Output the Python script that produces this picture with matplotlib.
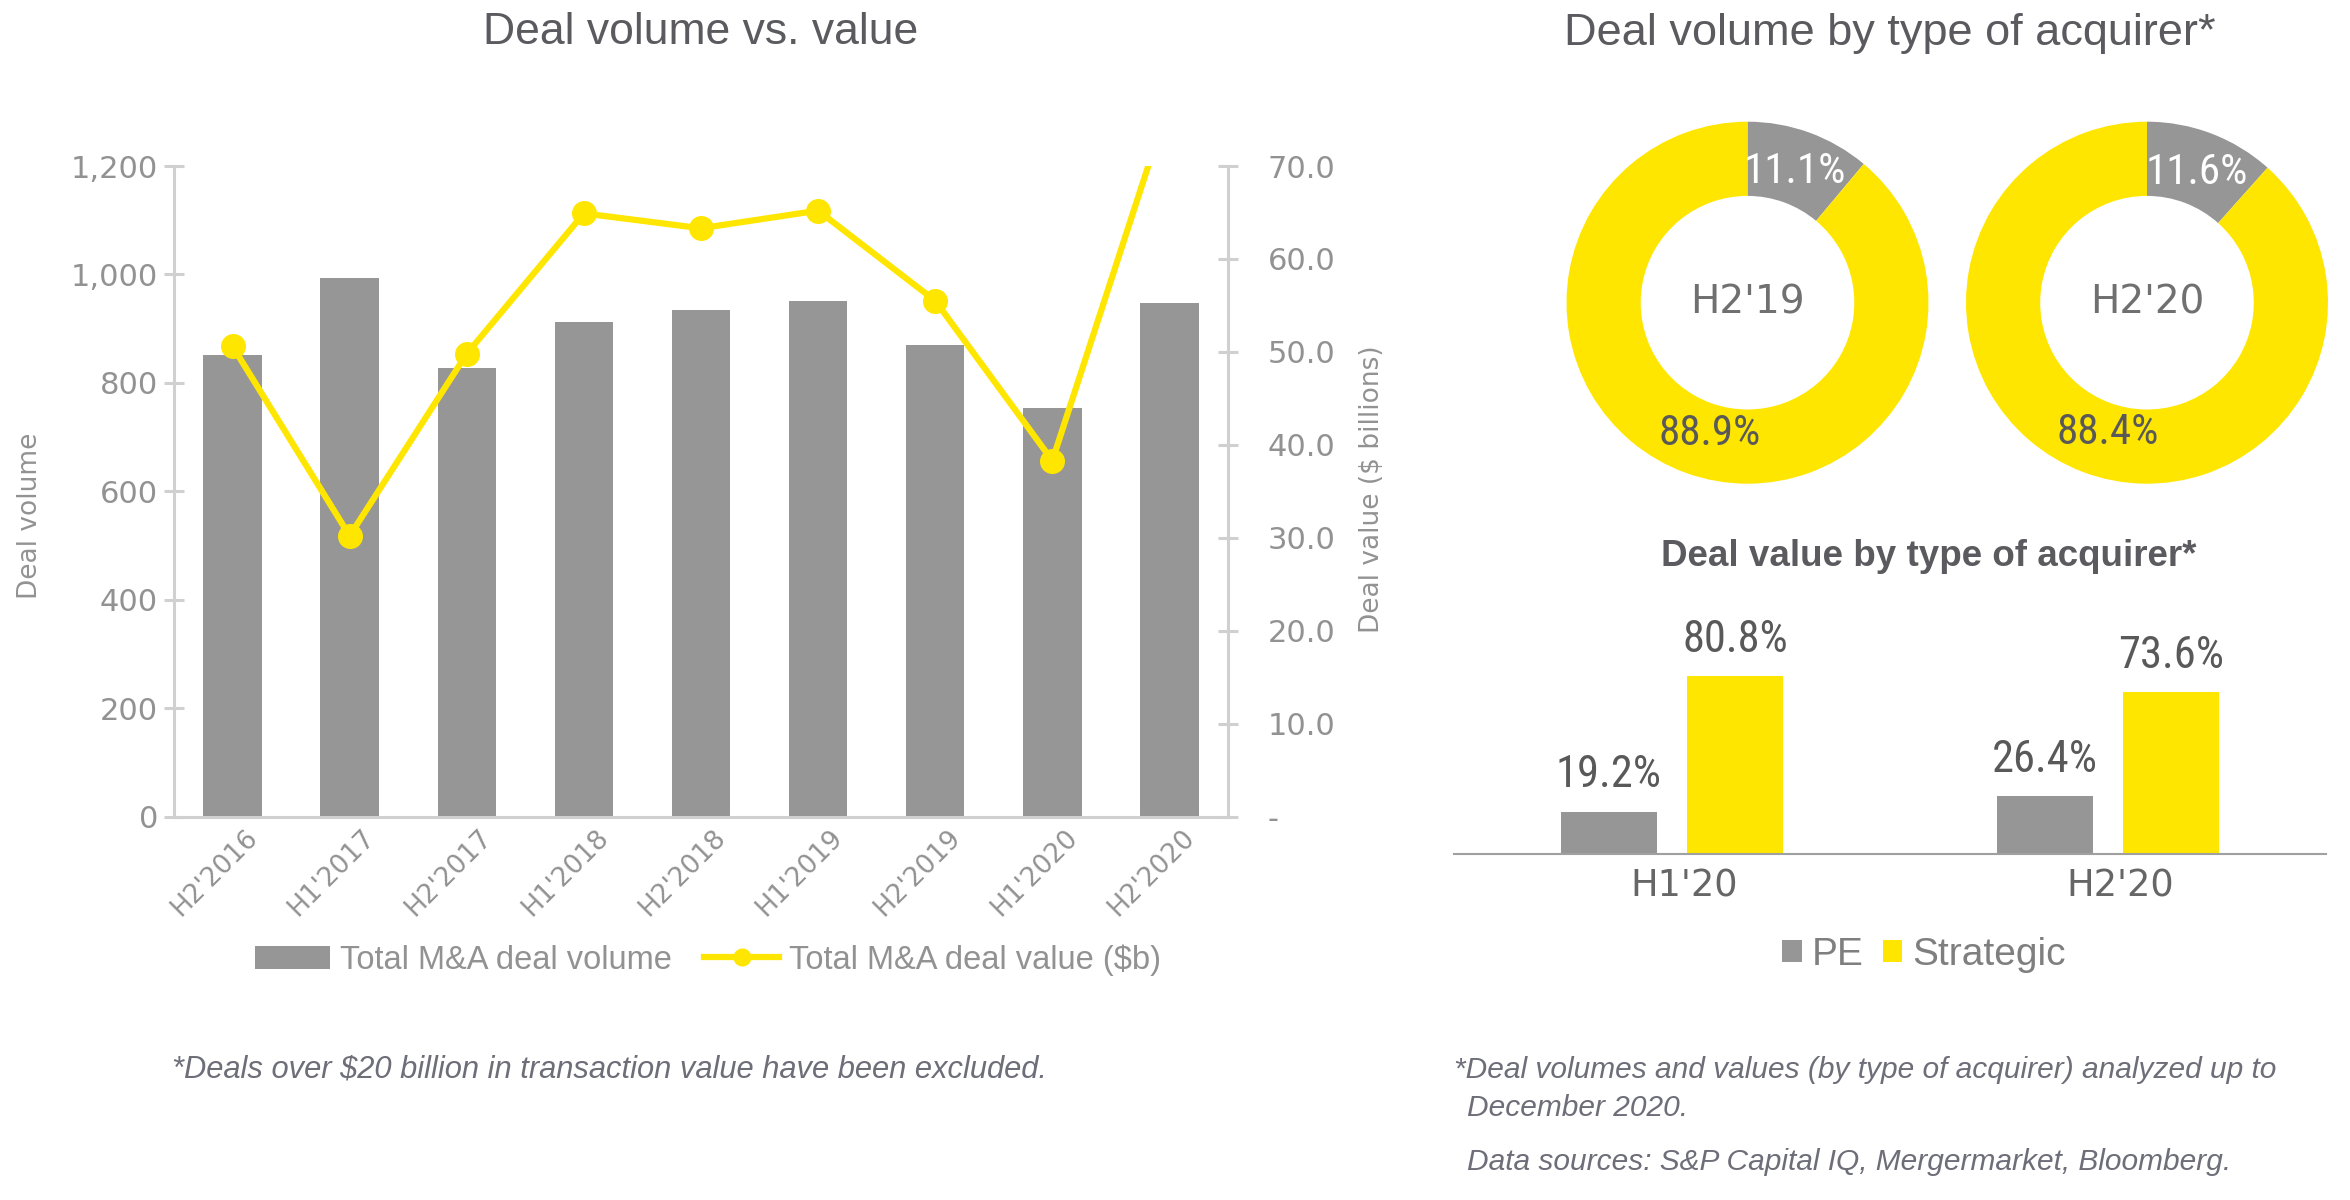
import matplotlib
matplotlib.use('Agg')
import matplotlib.pyplot as plt
from matplotlib import font_manager as fm
from matplotlib.ticker import FuncFormatter
from matplotlib.lines import Line2D
from matplotlib.patches import Patch
import matplotlib.transforms as mtransforms
import numpy as np


def pick(names):
    for n in names:
        try:
            fm.findfont(fm.FontProperties(family=n), fallback_to_default=False)
            return n
        except Exception:
            pass
    return 'DejaVu Sans'


SANS = pick(['Liberation Sans', 'Arial', 'DejaVu Sans'])
NARROW = pick(['Liberation Sans Narrow', 'Roboto Condensed', 'Liberation Sans'])
VERD = 'DejaVu Sans'

# ---------------- data ----------------
periods = ["H2'2016", "H1'2017", "H2'2017", "H1'2018", "H2'2018",
           "H1'2019", "H2'2019", "H1'2020", "H2'2020"]
deal_volume = [852, 993, 828, 912, 935, 951, 869, 754, 948]
deal_value = [50.6, 30.2, 49.8, 64.9, 63.3, 65.2, 55.5, 38.3, 77.0]

donut_periods = ["H2'19", "H2'20"]
pe_volume_share = [11.1, 11.6]
strategic_volume_share = [88.9, 88.4]

value_periods = ["H1'20", "H2'20"]
pe_value_share = [19.2, 26.4]
strategic_value_share = [80.8, 73.6]

# ---------------- style ----------------
YEL = '#FFE600'
GRAY = '#969696'
SPINE = '#d0d0d0'
TICK = '#929292'
TITLE = '#5a5a5f'
DARK = '#595959'
FOOT = '#6d6e78'

W, H = 2350, 1200
fig = plt.figure(figsize=(23.5, 12), dpi=100)


def fx(px):
    return px / W


def fy(py):
    return 1 - py / H


# ---------------- main combo chart ----------------
ax = fig.add_axes([fx(174), fy(816.5), fx(1054), 650.5 / H])
x = np.arange(len(periods))
ax.bar(x, deal_volume, width=0.5, color=GRAY, zorder=2)
ax.set_xlim(-0.5, len(periods) - 0.5)
ax.set_ylim(0, 1200)
ax.set_yticks(np.arange(0, 1201, 200))
ax.yaxis.set_major_formatter(FuncFormatter(lambda v, p: f'{int(v):,}'))
for s in ['top', 'right']:
    ax.spines[s].set_visible(False)
for s in ['left', 'bottom']:
    ax.spines[s].set_color(SPINE)
    ax.spines[s].set_linewidth(2.2)
ax.tick_params(axis='y', direction='inout', length=15, width=2.2, color=SPINE,
               labelsize=22, labelcolor=TICK, pad=4)
ax.tick_params(axis='x', length=0, labelsize=19, labelcolor=TICK, pad=6)
ax.set_xticks(x)
ax.set_xticklabels(periods, rotation=45, ha='right', rotation_mode='anchor')
shift = mtransforms.ScaledTranslation(12 / 100, 0, fig.dpi_scale_trans)
for t in ax.get_xticklabels():
    t.set_transform(t.get_transform() + shift)
for t in ax.get_yticklabels() + ax.get_xticklabels():
    t.set_family(VERD)
ax.set_ylabel('Deal volume', fontsize=19, color=TICK, family=VERD)
ax.yaxis.set_label_coords(-0.124, 0.463)

ax2 = ax.twinx()
ax2.plot(x, deal_value, color=YEL, lw=4.5, marker='o', ms=17, zorder=3)
ax2.set_ylim(0, 70)
ax2.set_yticks(np.arange(0, 71, 10))
ax2.yaxis.set_major_formatter(FuncFormatter(lambda v, p: '-' if v == 0 else f'{v:.1f}'))
for s in ['top', 'left', 'bottom']:
    ax2.spines[s].set_visible(False)
ax2.spines['right'].set_color(SPINE)
ax2.spines['right'].set_linewidth(2.2)
ax2.tick_params(axis='y', direction='inout', length=15, width=2.2, color=SPINE,
                labelsize=22, labelcolor=TICK, pad=21)
for t in ax2.get_yticklabels():
    t.set_family(VERD)
ax2.set_ylabel('Deal value ($ billions)', fontsize=19, color=TICK, family=VERD)
ax2.yaxis.set_label_coords(1.124, 0.503)

handles = [Patch(facecolor=GRAY, edgecolor='none', label='Total M&A deal volume'),
           Line2D([], [], color=YEL, lw=4.5, marker='o', ms=12, label='Total M&A deal value ($b)')]
leg = fig.legend(handles=handles, loc='center', bbox_to_anchor=(fx(708), fy(960)),
                 ncol=2, frameon=False, prop={'family': SANS, 'size': 23.5},
                 handlelength=2.3, handleheight=0.7, handletextpad=0.3, columnspacing=1.0)
for t in leg.get_texts():
    t.set_color(TICK)

fig.text(fx(701), fy(33), 'Deal volume vs. value', ha='center', va='center',
         fontsize=32, family=SANS, color=TITLE)
fig.text(fx(172), fy(1070), '*Deals over $20 billion in transaction value have been excluded.',
         ha='left', va='center', fontsize=22.2, style='italic', family=SANS, color=FOOT)

# ---------------- donuts ----------------
fig.text(fx(1890), fy(33), 'Deal volume by type of acquirer*', ha='center', va='center',
         fontsize=32.5, family=SANS, color=TITLE)
centers = [(1747.5, 302.7), (2147, 302.7)]
R = 181
label_shift = mtransforms.ScaledTranslation(10 / 100, 0, fig.dpi_scale_trans)
for (cx, cy), lab, pe, st in zip(centers, donut_periods, pe_volume_share, strategic_volume_share):
    axd = fig.add_axes([fx(cx - R), fy(cy + R), fx(2 * R), 2 * R / H])
    wedges, texts, autotexts = axd.pie(
        [pe, st], colors=[GRAY, YEL], startangle=90, counterclock=False, radius=1,
        wedgeprops=dict(width=0.41, linewidth=0), autopct='%.1f%%', pctdistance=0.77,
        textprops=dict(fontsize=31, family=NARROW))
    autotexts[0].set_color('white')
    autotexts[1].set_color(DARK)
    autotexts[1].set_transform(autotexts[1].get_transform() + label_shift)
    axd.text(0, 0, lab, ha='center', va='center', fontsize=28, family=VERD, color='#707070')
    axd.set_xlim(-1, 1)
    axd.set_ylim(-1, 1)
    axd.set_aspect('equal')
    axd.axis('off')

# ---------------- value bar chart ----------------
fig.text(fx(1929), fy(557), 'Deal value by type of acquirer*', ha='center', va='center',
         fontsize=26.5, fontweight='bold', family=SANS, color=TITLE)
ax3 = fig.add_axes([fx(1454), fy(854), fx(872), 220 / H])
xv = np.arange(len(value_periods))
bw, off = 0.222, 0.1445
b1 = ax3.bar(xv - off, pe_value_share, bw, color=GRAY, label='PE')
b2 = ax3.bar(xv + off, strategic_value_share, bw, color=YEL, label='Strategic')
shift3 = mtransforms.ScaledTranslation(12 / 100, 0, fig.dpi_scale_trans)
for bars in (b1, b2):
    labs = ax3.bar_label(bars, fmt='%.1f%%', padding=11, fontsize=32, family=NARROW, color=DARK)
    for t in labs:
        t.set_transform(t.get_transform() + shift3)
ax3.set_xlim(-0.5, 1.5)
ax3.set_ylim(0, 100)
ax3.set_yticks([])
for s in ['top', 'right', 'left']:
    ax3.spines[s].set_visible(False)
ax3.spines['bottom'].set_color('#a0a0a0')
ax3.spines['bottom'].set_linewidth(1.5)
ax3.set_xticks(xv)
ax3.set_xticklabels(value_periods)
ax3.tick_params(axis='x', length=0, labelsize=26.5, labelcolor='#666666', pad=10)
shift2 = mtransforms.ScaledTranslation(12 / 100, 0, fig.dpi_scale_trans)
for t in ax3.get_xticklabels():
    t.set_family(VERD)
    t.set_transform(t.get_transform() + shift2)
leg2 = fig.legend(handles=[b1, b2], loc='center', bbox_to_anchor=(fx(1924), fy(955)),
                  ncol=2, frameon=False, prop={'family': SANS, 'size': 28},
                  handlelength=0.5, handleheight=0.5, handletextpad=0.25, columnspacing=0.5)
for t in leg2.get_texts():
    t.set_color('#7f7f7f')

fig.text(fx(1454), fy(1070), '*Deal volumes and values (by type of acquirer) analyzed up to',
         ha='left', va='center', fontsize=21.5, style='italic', family=SANS, color=FOOT)
fig.text(fx(1467), fy(1108), 'December 2020.',
         ha='left', va='center', fontsize=21.5, style='italic', family=SANS, color=FOOT)
fig.text(fx(1467), fy(1162), 'Data sources: S&P Capital IQ, Mergermarket, Bloomberg.',
         ha='left', va='center', fontsize=21.5, style='italic', family=SANS, color=FOOT)

fig.savefig('out.png', dpi=100)
